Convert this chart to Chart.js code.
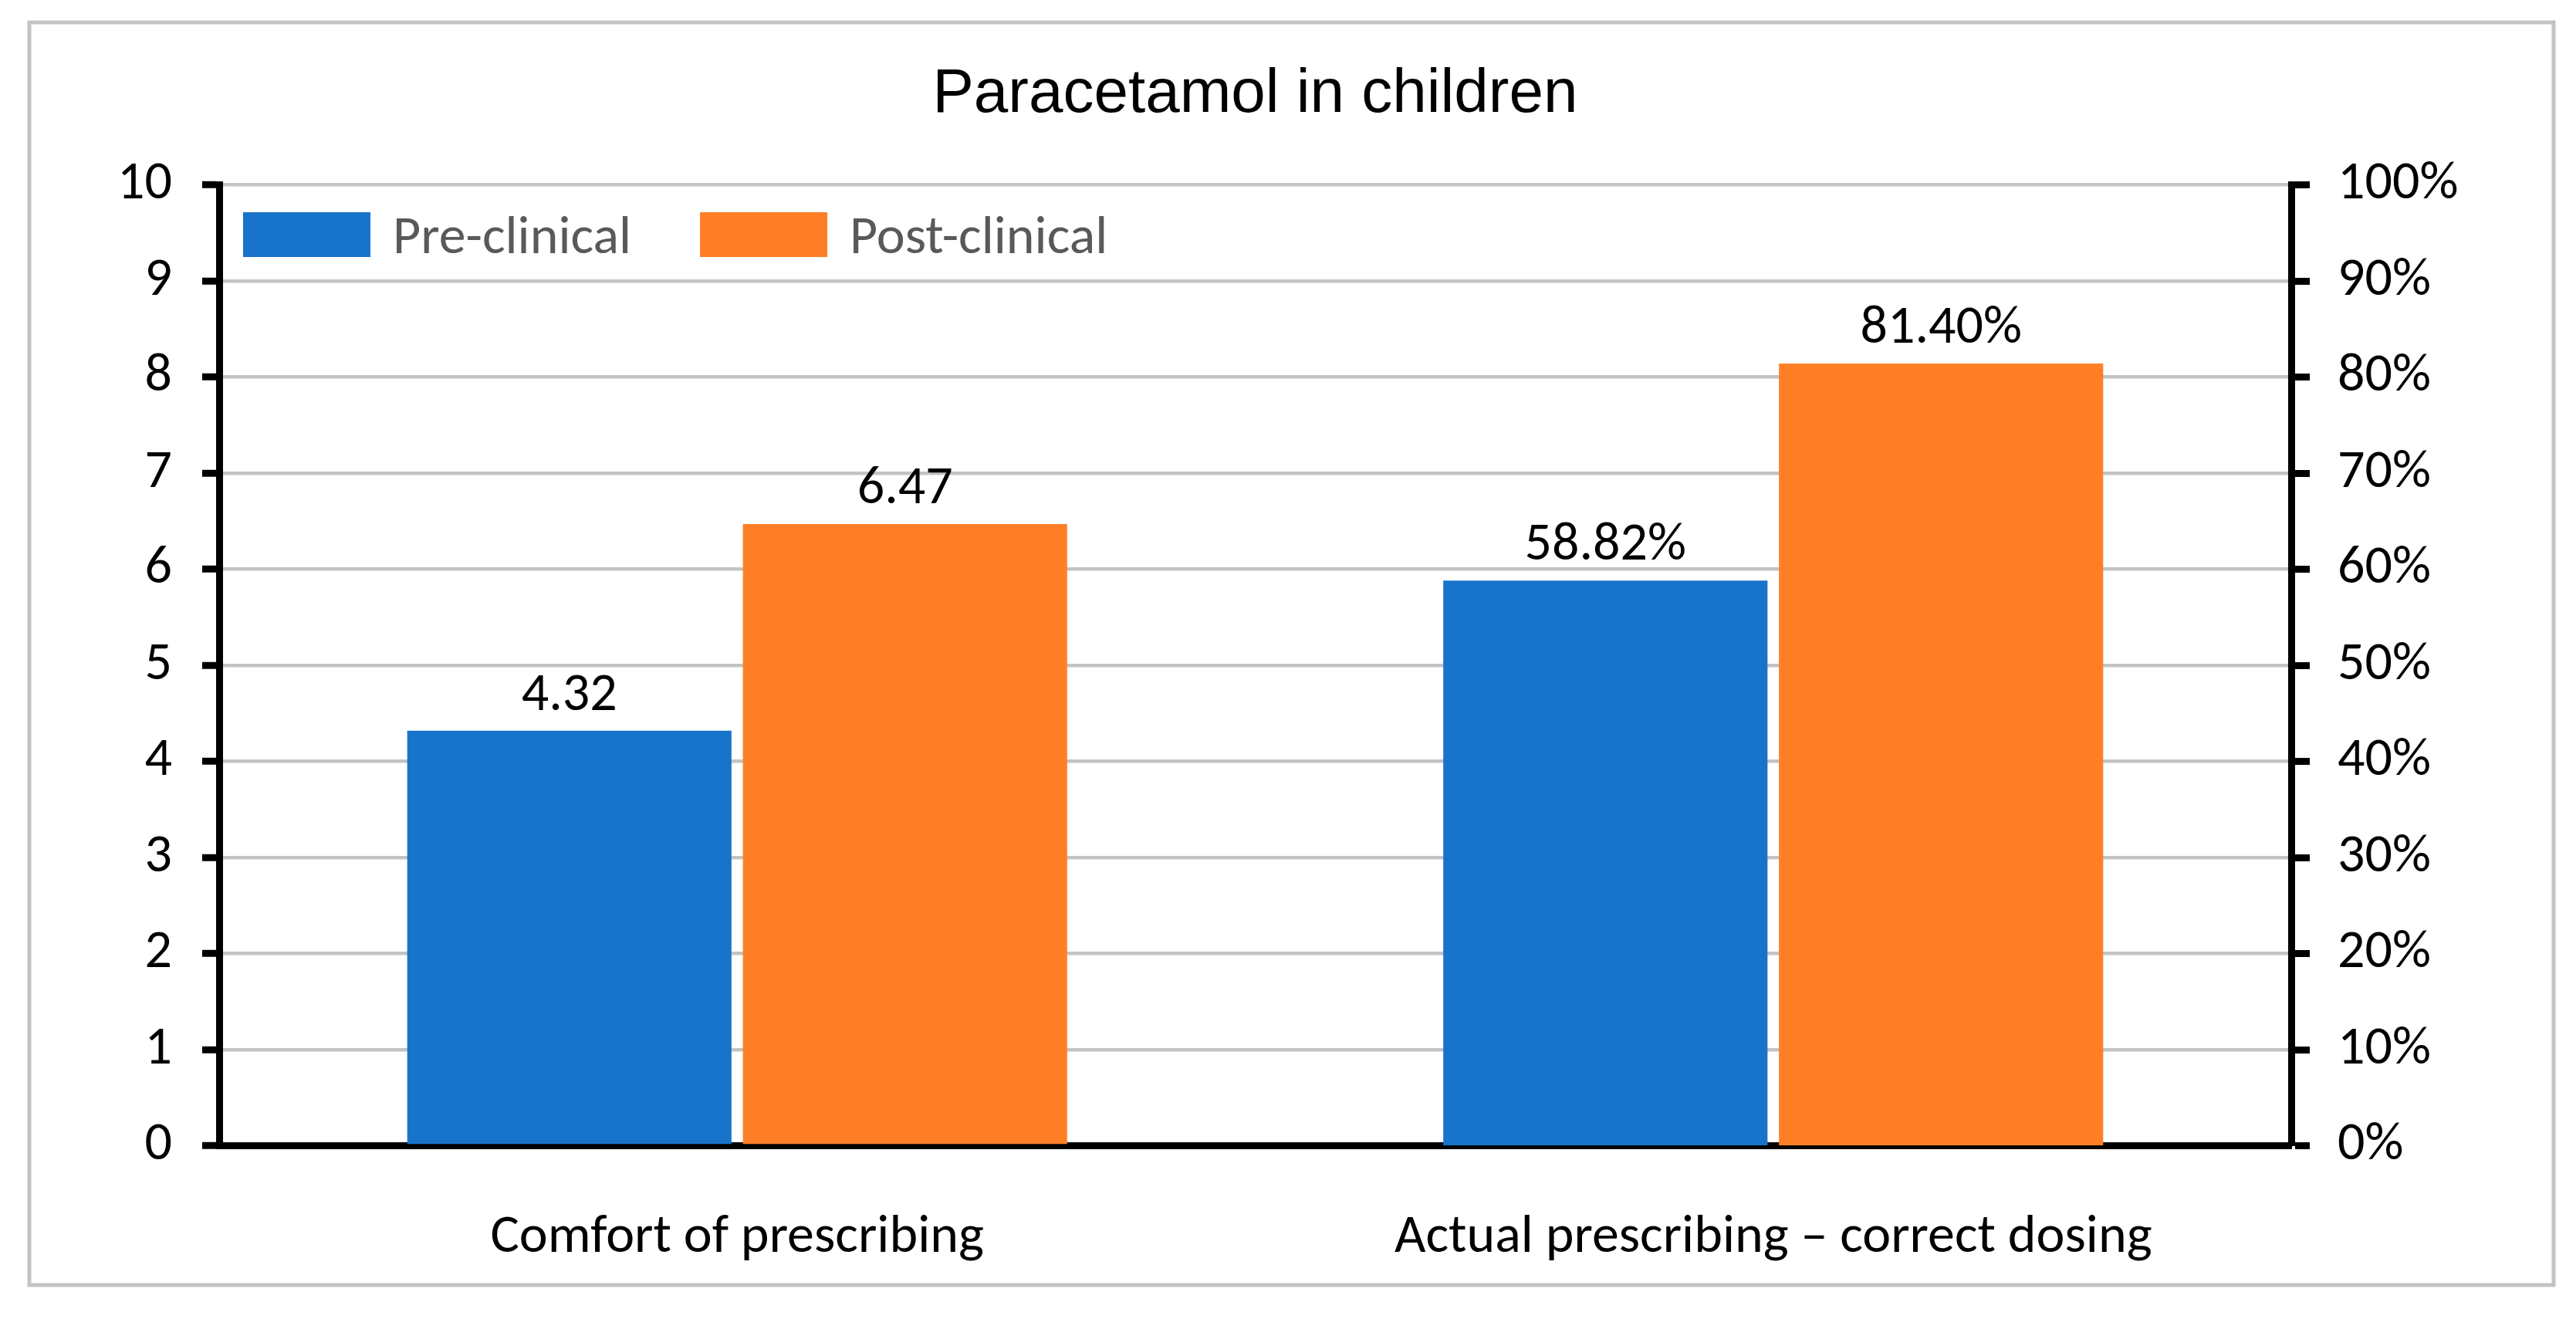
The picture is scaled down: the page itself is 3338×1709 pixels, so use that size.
<!DOCTYPE html>
<html>
<head>
<meta charset="utf-8">
<script src="https://cdn.jsdelivr.net/npm/chart.js@4.4.1/dist/chart.umd.min.js"></script>
<style>
    html, body { margin: 0; padding: 0; background: #fff; }
    #wrap { width: 3338px; height: 1709px; }
</style>
</head>
<body>
<div id="wrap"><canvas id="chart" width="3338" height="1709"></canvas></div>
<script>
const categories = ['Comfort of prescribing', 'Actual prescribing \u2013 correct dosing'];
const seriesNames = ['Pre-clinical', 'Post-clinical'];
const seriesColors = ['#1874CA', '#FF7F27'];
const comfortScores = [4.32, 6.47];     // pre, post - left axis (0-10)
const dosingPercents = [58.82, 81.40];  // pre, post - right axis (%)
const leftTicks = [0, 1, 2, 3, 4, 5, 6, 7, 8, 9, 10];
const rightTicks = [0, 10, 20, 30, 40, 50, 60, 70, 80, 90, 100];

const BODY_FONT = 'Carlito, Calibri, "Liberation Sans Narrow", sans-serif';
const TITLE_FONT = '"Liberation Sans", Arial, sans-serif';

const frame = {
    id: 'frame',
    beforeDraw(chart) {
        const ctx = chart.ctx;
        ctx.save();
        ctx.fillStyle = '#fff';
        ctx.fillRect(0, 0, chart.width, chart.height);
        ctx.strokeStyle = '#c3c3c3';
        ctx.lineWidth = 5;
        ctx.strokeRect(38, 29, 3271, 1636);
        ctx.restore();
    },
};

const barValues = {
    id: 'barValues',
    afterDatasetsDraw(chart) {
        const ctx = chart.ctx;
        ctx.save();
        ctx.font = '70px ' + BODY_FONT;
        ctx.fillStyle = '#000';
        ctx.textAlign = 'center';
        ctx.textBaseline = 'alphabetic';
        chart.data.datasets.forEach((ds, i) => {
            const meta = chart.getDatasetMeta(i);
            meta.data.forEach((bar, j) => {
                const v = ds.data[j];
                if (v == null) {
                    return;
                }
                const text = ds.yAxisID === 'y1' ? v.toFixed(2) + '%' : v.toFixed(2);
                ctx.fillText(text, bar.x, bar.y - 27);
            });
        });
        ctx.restore();
    },
};

const insideLegend = {
    id: 'insideLegend',
    afterDraw(chart) {
        const ctx = chart.ctx;
        const area = chart.chartArea;
        let x = area.left + 31;
        const top = area.top + 35.5;
        ctx.save();
        ctx.font = '70px ' + BODY_FONT;
        ctx.textBaseline = 'alphabetic';
        ctx.textAlign = 'left';
        seriesNames.forEach((name, i) => {
            ctx.fillStyle = seriesColors[i];
            ctx.fillRect(x, top, 165, 58);
            ctx.fillStyle = '#595959';
            const tx = x + 165 + 29;
            ctx.fillText(name, tx, top + 53);
            x = tx + ctx.measureText(name).width + 89;
        });
        ctx.restore();
    },
};

function barSet(name, color, values, axis) {
    return {
        label: name,
        data: values,
        yAxisID: axis,
        backgroundColor: color,
        borderWidth: 0,
        skipNull: true,
        categoryPercentage: 0.648,
        barPercentage: 0.966,
    };
}

new Chart(document.getElementById('chart'), {
    type: 'bar',
    data: {
        labels: categories,
        datasets: [
            barSet(seriesNames[0], seriesColors[0], [comfortScores[0], null], 'y'),
            barSet(seriesNames[1], seriesColors[1], [comfortScores[1], null], 'y'),
            barSet(seriesNames[0], seriesColors[0], [null, dosingPercents[0]], 'y1'),
            barSet(seriesNames[1], seriesColors[1], [null, dosingPercents[1]], 'y1'),
        ],
    },
    options: {
        responsive: false,
        animation: false,
        devicePixelRatio: 1,
        layout: { padding: 0 },
        events: [],
        plugins: {
            legend: { display: false },
            tooltip: { enabled: false },
            title: {
                display: true,
                fullSize: false,
                text: 'Paracetamol in children',
                color: '#000',
                font: { family: TITLE_FONT, size: 80, weight: 'normal', lineHeight: 1.2 },
                padding: { top: 74.5, bottom: 69 },
            },
        },
        scales: {
            x: {
                grid: { display: false, drawTicks: false },
                border: { display: true, color: '#000', width: 9 },
                ticks: {
                    color: '#000',
                    padding: 78,
                    font: { family: BODY_FONT, size: 70, lineHeight: 1.2 },
                    maxRotation: 0,
                },
                afterFit(scale) {
                    scale.height = 224.5;
                },
            },
            y: {
                position: 'left',
                min: leftTicks[0],
                max: leftTicks[leftTicks.length - 1],
                grid: {
                    color: (c) => (c.tick && c.tick.value === 0 ? 'rgba(0,0,0,0)' : '#c3c3c3'),
                    lineWidth: 4.5,
                    tickColor: '#000',
                    tickWidth: 9,
                    tickLength: 22,
                },
                border: { display: true, color: '#000', width: 9 },
                ticks: {
                    stepSize: leftTicks[1] - leftTicks[0],
                    color: '#000',
                    padding: 39,
                    font: { family: BODY_FONT, size: 70 },
                },
                afterFit(scale) {
                    scale.width = 284;
                },
            },
            y1: {
                position: 'right',
                min: rightTicks[0],
                max: rightTicks[rightTicks.length - 1],
                grid: {
                    drawOnChartArea: false,
                    tickColor: '#000',
                    tickWidth: 9,
                    tickLength: 24,
                },
                border: { display: true, color: '#000', width: 9 },
                ticks: {
                    stepSize: rightTicks[1] - rightTicks[0],
                    color: '#000',
                    padding: 36,
                    font: { family: BODY_FONT, size: 70 },
                    callback: (v) => v + '%',
                },
                afterFit(scale) {
                    scale.width = 369;
                },
            },
        },
    },
    plugins: [frame, barValues, insideLegend],
});
</script>
</body>
</html>
